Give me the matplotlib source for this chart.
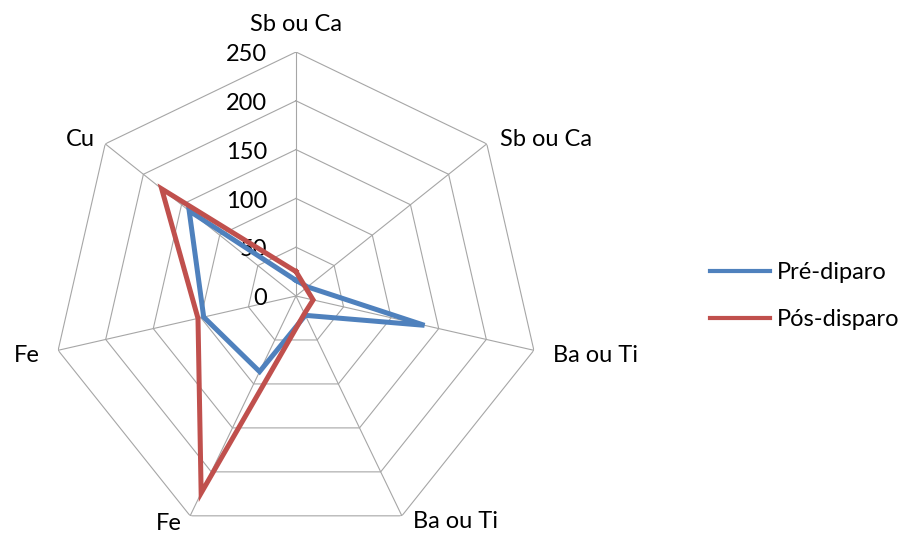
import numpy as np
import matplotlib
matplotlib.use("Agg")
import matplotlib.pyplot as plt

plt.rcParams['font.family'] = ['Lato', 'DejaVu Sans']

categories = ["Sb ou Ca", "Sb ou Ca", "Ba ou Ti", "Ba ou Ti", "Fe", "Fe", "Cu"]
pre_disparo = [16, 15, 135, 22, 86, 97, 140]
pos_disparo = [25, 13, 18, 20, 224, 103, 176]
series_labels = ["Pré-diparo", "Pós-disparo"]
radial_ticks = [0, 50, 100, 150, 200, 250]

blue = "#4F81BD"
red = "#C0504D"
grid_color = "#A6A6A6"
fs = 17

n = len(categories)
theta = np.arange(n) * 2 * np.pi / n
theta_closed = np.append(theta, theta[0])
rmax = radial_ticks[-1]

W, H = 915, 533
fig = plt.figure(figsize=(W / 100, H / 100), dpi=100)
cx, cy, R = 296, 296, 244
ax = fig.add_axes([(cx - R) / W, 1 - (cy + R) / H, 2 * R / W, 2 * R / H],
                  projection="polar")
ax.set_theta_offset(np.pi / 2)
ax.set_theta_direction(-1)
ax.set_ylim(0, rmax)
ax.grid(False)
ax.spines["polar"].set_visible(False)
ax.set_xticks([])
ax.set_yticks([])
ax.patch.set_visible(False)

# polygonal rings and spokes
for r in radial_ticks[1:]:
    ax.plot(theta_closed, [r] * (n + 1), color=grid_color, lw=0.8, zorder=1)
for t in theta:
    ax.plot([t, t], [0, rmax], color=grid_color, lw=0.8, zorder=1)

# radial value labels along the top spoke
for r in radial_ticks:
    ax.annotate(str(r), xy=(0, r), xytext=(-21, -2), textcoords="offset points",
                ha="right", va="center", fontsize=fs, color="#000000")

# category labels around the outer ring
label_offsets = [(0, 19.5, "center"), (9.4, 2.9, "left"), (13.7, -3.6, "left"),
                 (8, -4.3, "left"), (-5.8, -5.8, "right"), (-13, -3.6, "right"),
                 (-7.2, 2.9, "right")]
for t, lab, (dx, dy, ha) in zip(theta, categories, label_offsets):
    ax.annotate(lab, xy=(t, rmax), xytext=(dx, dy), textcoords="offset points",
                ha=ha, va="center", fontsize=fs, color="#000000")

l1, = ax.plot(theta_closed, pre_disparo + pre_disparo[:1], color=blue, lw=3.6,
              solid_joinstyle="miter", zorder=3, label=series_labels[0])
l2, = ax.plot(theta_closed, pos_disparo + pos_disparo[:1], color=red, lw=3.6,
              solid_joinstyle="miter", zorder=4, label=series_labels[1])

leg = fig.legend(handles=[l1, l2], loc="center left",
                 bbox_to_anchor=(710 / W, 1 - 296 / H), frameon=False,
                 fontsize=fs, handlelength=2.55, handletextpad=0.3,
                 labelspacing=1.12, borderpad=0, borderaxespad=0)
for line in leg.get_lines():
    line.set_linewidth(3.0)

fig.savefig("out.png", dpi=100)
